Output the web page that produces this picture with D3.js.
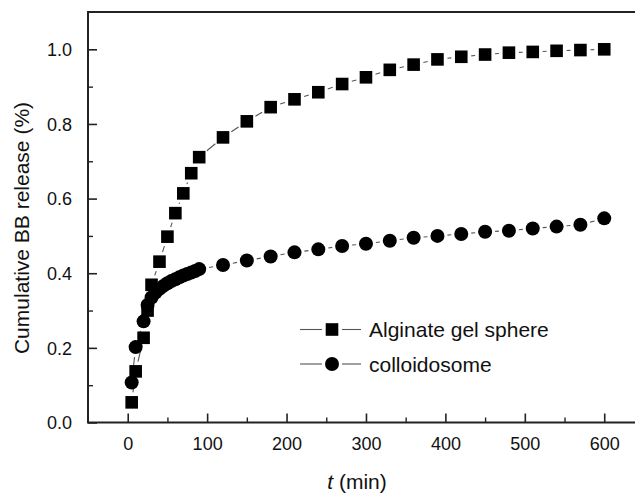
<!DOCTYPE html>
<html>
<head>
<meta charset="utf-8">
<script src="https://cdn.jsdelivr.net/npm/d3@7"></script>
<style>
  html, body { margin: 0; padding: 0; background: #fff; }
  svg { display: block; }
  text { font-family: "Liberation Sans", Arial, Helvetica, sans-serif; fill: #111; }
</style>
</head>
<body>
<svg id="chart" width="635" height="494"></svg>
<script>
// ---- data ----
const alginateTime = [5, 10, 20, 25, 30, 40, 50, 60, 70, 80, 90, 120, 150, 180, 210, 240, 270, 300, 330, 360, 390, 420, 450, 480, 510, 540, 570, 600];
const alginateRelease = [0.054, 0.137, 0.227, 0.300, 0.369, 0.431, 0.498, 0.561, 0.614, 0.668, 0.711, 0.764, 0.807, 0.845, 0.866, 0.885, 0.907, 0.925, 0.945, 0.959, 0.973, 0.980, 0.986, 0.991, 0.993, 0.996, 0.998, 1.000];

const colloidTime = [5, 10, 20, 25, 30, 35, 40, 45, 50, 55, 60, 65, 70, 75, 80, 85, 90, 120, 150, 180, 210, 240, 270, 300, 330, 360, 390, 420, 450, 480, 510, 540, 570, 600];
const colloidRelease = [0.107, 0.202, 0.271, 0.315, 0.335, 0.348, 0.358, 0.366, 0.373, 0.379, 0.384, 0.389, 0.394, 0.398, 0.402, 0.406, 0.411, 0.422, 0.434, 0.445, 0.456, 0.464, 0.473, 0.479, 0.487, 0.495, 0.500, 0.505, 0.511, 0.514, 0.520, 0.525, 0.530, 0.547];

const xMajorTicks = [0, 100, 200, 300, 400, 500, 600];
const xMinorTicks = [50, 150, 250, 350, 450, 550];
const yMajorTicks = [0.0, 0.2, 0.4, 0.6, 0.8, 1.0];
const yMinorTicks = [0.1, 0.3, 0.5, 0.7, 0.9];

const seriesNames = ["Alginate gel sphere", "colloidosome"];
const xTitleItalic = "t";
const xTitleRest = " (min)";
const yTitle = "Cumulative BB release (%)";

// ---- layout ----
const svg = d3.select("#chart");
const mLeft = 88, mRight = 636, mTop = 12, mBottom = 422.5;

const x = d3.scaleLinear().domain([-50, 640]).range([mLeft, mRight]);
const y = d3.scaleLinear().domain([0, 1.1]).range([mBottom, mTop]);

const axisColor = "#222";
const lineColor = "#555";

// connecting lines with gaps near markers
function gappedSegments(xs, ys, gap) {
  const segs = [];
  for (let i = 0; i < xs.length - 1; i++) {
    const x1 = x(xs[i]), y1 = y(ys[i]), x2 = x(xs[i + 1]), y2 = y(ys[i + 1]);
    const dx = x2 - x1, dy = y2 - y1, d = Math.hypot(dx, dy);
    if (d <= 2 * gap + 1) continue;
    const ux = dx / d, uy = dy / d;
    segs.push([x1 + ux * gap, y1 + uy * gap, x2 - ux * gap, y2 - uy * gap]);
  }
  return segs;
}

const gLines = svg.append("g");
[[alginateTime, alginateRelease], [colloidTime, colloidRelease]].forEach(([xs, ys]) => {
  gLines.selectAll(null)
    .data(gappedSegments(xs, ys, 10))
    .enter().append("line")
    .attr("x1", d => d[0]).attr("y1", d => d[1])
    .attr("x2", d => d[2]).attr("y2", d => d[3])
    .attr("stroke", lineColor).attr("stroke-width", 1.1);
});

// markers
const sq = 12.6, rc = 7;
svg.append("g").selectAll("rect")
  .data(alginateTime.map((t, i) => [t, alginateRelease[i]]))
  .enter().append("rect")
  .attr("x", d => x(d[0]) - sq / 2)
  .attr("y", d => y(d[1]) - sq / 2)
  .attr("width", sq).attr("height", sq)
  .attr("fill", "#000");

svg.append("g").selectAll("circle")
  .data(colloidTime.map((t, i) => [t, colloidRelease[i]]))
  .enter().append("circle")
  .attr("cx", d => x(d[0]))
  .attr("cy", d => y(d[1]))
  .attr("r", rc)
  .attr("fill", "#000");

// axes
const xAxis = d3.axisBottom(x).tickValues(xMajorTicks).tickSize(-9).tickPadding(0).tickFormat(d3.format("d"));
const gx = svg.append("g").attr("transform", `translate(0,${mBottom})`).call(xAxis);
gx.select(".domain").remove();
gx.selectAll(".tick line").attr("stroke", axisColor).attr("stroke-width", 1.6);
gx.selectAll(".tick text").attr("y", 27).attr("dy", 0).style("font-size", "18px").attr("fill", "#111");

const xMinor = d3.axisBottom(x).tickValues(xMinorTicks).tickSize(-5).tickFormat("");
const gxm = svg.append("g").attr("transform", `translate(0,${mBottom})`).call(xMinor);
gxm.select(".domain").remove();
gxm.selectAll(".tick line").attr("stroke", axisColor).attr("stroke-width", 1.4);

const yAxis = d3.axisLeft(y).tickValues(yMajorTicks).tickSize(-9).tickPadding(0).tickFormat(d3.format(".1f"));
const gy = svg.append("g").attr("transform", `translate(${mLeft},0)`).call(yAxis);
gy.select(".domain").remove();
gy.selectAll(".tick line").attr("stroke", axisColor).attr("stroke-width", 1.6);
gy.selectAll(".tick text").attr("x", -16).attr("dy", "0.35em").style("font-size", "18px").attr("fill", "#111");

const yMinor = d3.axisLeft(y).tickValues(yMinorTicks).tickSize(-5).tickFormat("");
const gym = svg.append("g").attr("transform", `translate(${mLeft},0)`).call(yMinor);
gym.select(".domain").remove();
gym.selectAll(".tick line").attr("stroke", axisColor).attr("stroke-width", 1.4);

// frame: left, bottom, top
svg.append("path")
  .attr("d", `M${mRight},${mTop}H${mLeft}V${mBottom}H${mRight}`)
  .attr("fill", "none").attr("stroke", axisColor).attr("stroke-width", 2);

// axis titles
const xt = svg.append("text")
  .attr("x", 357).attr("y", 489)
  .attr("text-anchor", "middle")
  .style("font-size", "21px");
xt.append("tspan").style("font-style", "italic").text(xTitleItalic);
xt.append("tspan").text(xTitleRest);

svg.append("text")
  .attr("transform", "translate(29,228) rotate(-90)")
  .attr("text-anchor", "middle")
  .style("font-size", "21px")
  .text(yTitle);

// legend
const legendItems = [
  { name: seriesNames[0], shape: "square", cy: 329.5 },
  { name: seriesNames[1], shape: "circle", cy: 364 }
];
const lg = svg.append("g");
legendItems.forEach(it => {
  lg.append("line").attr("x1", 300).attr("x2", 322).attr("y1", it.cy).attr("y2", it.cy)
    .attr("stroke", lineColor).attr("stroke-width", 1.1);
  lg.append("line").attr("x1", 342).attr("x2", 361).attr("y1", it.cy).attr("y2", it.cy)
    .attr("stroke", lineColor).attr("stroke-width", 1.1);
  if (it.shape === "square") {
    lg.append("rect").attr("x", 332 - sq / 2).attr("y", it.cy - sq / 2).attr("width", sq).attr("height", sq).attr("fill", "#000");
  } else {
    lg.append("circle").attr("cx", 332).attr("cy", it.cy).attr("r", rc).attr("fill", "#000");
  }
  lg.append("text").attr("x", 369).attr("y", it.cy).attr("dy", "0.36em")
    .style("font-size", "21px").text(it.name);
});
</script>
</body>
</html>
